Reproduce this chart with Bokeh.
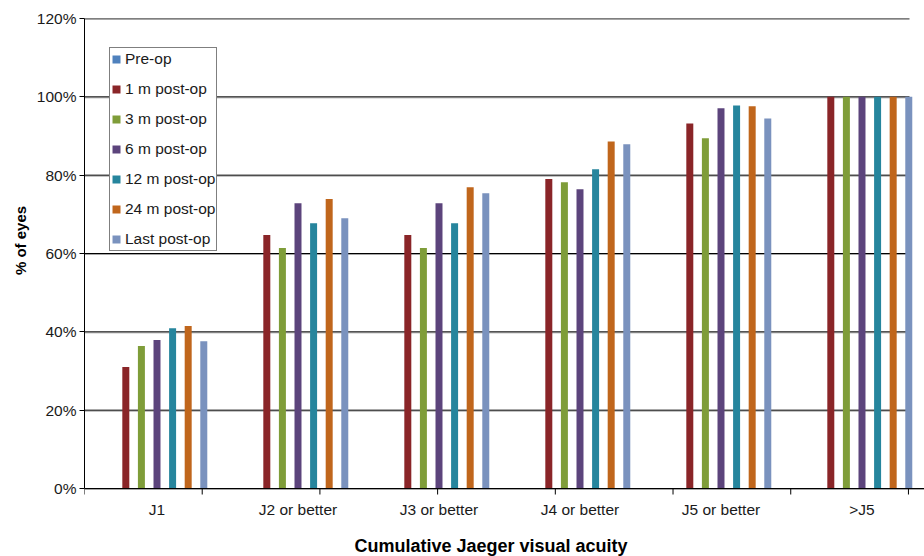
import math
from bokeh.plotting import figure
from bokeh.models import (Range1d, FixedTicker, PrintfTickFormatter, Legend, LegendItem,
                          Label, Title)
from bokeh.core.properties import value
from bokeh.embed import file_html
from bokeh.resources import INLINE

# ---- data ----
categories = ["J1", "J2 or better", "J3 or better", "J4 or better", "J5 or better", ">J5"]
series_names = ["Pre-op", "1 m post-op", "3 m post-op", "6 m post-op",
                "12 m post-op", "24 m post-op", "Last post-op"]
pre_op = [float("nan")] * 6
m1 = [31.0, 64.7, 64.7, 79.0, 93.2, 100.0]
m3 = [36.4, 61.4, 61.4, 78.2, 89.4, 100.0]
m6 = [37.9, 72.8, 72.8, 76.4, 97.1, 100.0]
m12 = [40.9, 67.7, 67.7, 81.5, 97.8, 100.0]
m24 = [41.5, 73.9, 76.9, 88.6, 97.6, 100.0]
last = [37.6, 69.0, 75.4, 87.9, 94.5, 100.0]
y_ticks = [0, 20, 40, 60, 80, 100, 120]
x_title = "Cumulative Jaeger visual acuity"
y_title = "% of eyes"

series = [pre_op, m1, m3, m6, m12, m24, last]
colors = ["#4F81BD", "#8A2528", "#7F9D39", "#5C447C", "#26859D", "#C0661C", "#7A92BE"]

FONT = "Liberation Sans"

# ---- layout constants ----
W, H = 924, 556
LEFT, TOP = 84, 18
PLOT_H = 470                       # pixels from 0% to 120%
PX_Y = PLOT_H / 120.0              # px per percent
BELOW_PX = H - TOP - PLOT_H        # room below the 0% line (inside the frame)
slot = 0.1106                      # distance between bar slots (in group units)
bar_w = 0.0496
x_start, x_end = -0.5142, 5.4433
PX_X = (W - LEFT) / (x_end - x_start)
grid_end = x_start + (909 - LEFT) / PX_X
tick_step = 0.8348
tick_len_px = 6
label_dy_px = 21                   # category label centre below the axis
title_dx_px, title_dy_px = 406.5, 57
y_title_center = 240
y_title_font_px = 15
y_title_len = 4.613 * y_title_font_px

y_start = -BELOW_PX / PX_Y

p = figure(width=W, height=H, output_backend="svg", toolbar_location=None,
           x_range=Range1d(x_start, x_end), y_range=Range1d(y_start, 120),
           x_axis_location=None,
           min_border_left=LEFT, min_border_right=0, min_border_top=TOP, min_border_bottom=0)
p.outline_line_color = None
p.background_fill_color = "white"
p.border_fill_color = "white"
p.xgrid.grid_line_color = None
p.ygrid.grid_line_color = None

# horizontal grid lines (black with a faint grey shadow), ending short of the right edge
grid_vals = y_ticks[1:]
shadow = 1.0 / PX_Y
p.segment(x0=[x_start] * len(grid_vals), x1=[grid_end] * len(grid_vals),
          y0=[v - shadow for v in grid_vals], y1=[v - shadow for v in grid_vals],
          line_color="#a6a6a6", line_width=1)
p.segment(x0=[x_start] * len(grid_vals), x1=[grid_end] * len(grid_vals),
          y0=grid_vals, y1=grid_vals, line_color="black", line_width=1)

items = []
n = len(series)
for j, (vals, col, name) in enumerate(zip(series, colors, series_names)):
    xs = [i + (j - (n - 1) / 2) * slot for i in range(len(categories))]
    r = p.vbar(x=xs, top=vals, bottom=0, width=bar_w, fill_color=col, line_color=None)
    items.append(LegendItem(label=name, renderers=[r]))

# category axis line (full width) at 0 %
p.segment(x0=[x_start], x1=[x_end], y0=[y_ticks[0] - shadow], y1=[y_ticks[0] - shadow],
          line_color="#a6a6a6", line_width=1)
p.segment(x0=[x_start], x1=[x_end], y0=[y_ticks[0]], y1=[y_ticks[0]],
          line_color="black", line_width=1)

# y axis
p.yaxis.ticker = FixedTicker(ticks=y_ticks)
p.yaxis.bounds = (y_ticks[0], y_ticks[-1])
p.yaxis.formatter = PrintfTickFormatter(format="%d%%")
p.yaxis.major_tick_out = 5
p.yaxis.major_tick_in = 0
p.yaxis.minor_tick_line_color = None
p.yaxis.major_label_standoff = 3
p.yaxis.major_label_text_font = FONT
p.yaxis.major_label_text_font_size = "15.5px"
p.yaxis.major_label_text_color = "#1a1a1a"
p.yaxis.axis_line_color = "black"
p.yaxis.major_tick_line_color = "black"

# category ticks and labels drawn inside the frame below the 0% line
tick_x = [x_start + k * tick_step for k in range(8)]
p.segment(x0=tick_x, y0=[0] * len(tick_x), x1=tick_x, y1=[-tick_len_px / PX_Y] * len(tick_x),
          line_color="black", line_width=1)
p.text(x=list(range(len(categories))), y=[-label_dy_px / PX_Y] * len(categories),
       text=categories, text_align="center", text_baseline="middle",
       text_font=value(FONT), text_font_size="15.5px", text_color="#1a1a1a")

p.add_layout(Label(x=x_start + title_dx_px / PX_X, y=-title_dy_px / PX_Y,
                   text=x_title, text_align="center", text_baseline="middle",
                   text_font=FONT, text_font_size="18px", text_font_style="bold",
                   text_color="black"))

# y-axis title (anchored at its start, reading upwards)
p.add_layout(Title(text=y_title, align="left",
                   offset=H - (y_title_center + y_title_len / 2),
                   text_font=FONT, text_font_size=f"{y_title_font_px}px", text_font_style="bold",
                   text_color="black"), "left")

legend = Legend(items=items, location=(25, H - 251))
legend.label_text_font = FONT
legend.label_text_font_size = "15.5px"
legend.label_text_color = "#1a1a1a"
legend.glyph_width = 10
legend.glyph_height = 10
legend.label_height = 20
legend.label_standoff = 4
legend.spacing = 10
legend.padding = 1
legend.margin = 0
legend.border_line_color = "black"
legend.border_line_width = 1.4
legend.background_fill_color = "white"
legend.background_fill_alpha = 1
p.add_layout(legend, "center")

open("out.html", "w").write(file_html(p, INLINE))
